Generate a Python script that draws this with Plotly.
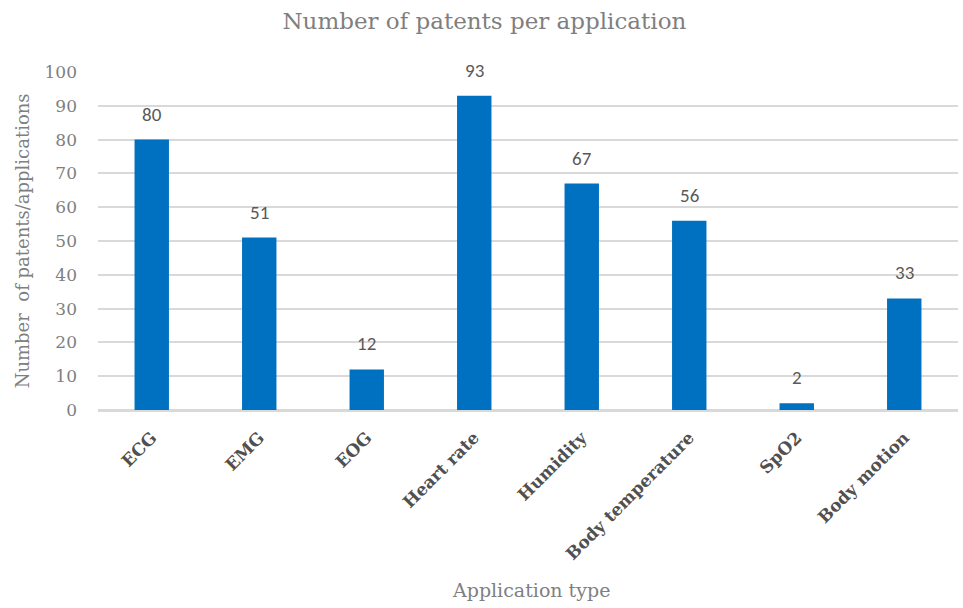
import plotly.graph_objects as go

categories = ["ECG", "EMG", "EOG", "Heart rate", "Humidity",
              "Body temperature", "SpO2", "Body motion"]
patents = [80, 51, 12, 93, 67, 56, 2, 33]
y_ticks = [0, 10, 20, 30, 40, 50, 60, 70, 80, 90, 100]

serif = "Palatino Linotype, Book Antiqua, DejaVu Serif, serif"
sans = "Carlito, Liberation Sans, sans-serif"

fig = go.Figure(
    go.Bar(
        x=categories,
        y=patents,
        marker=dict(color="#0070c0", line=dict(width=0)),
        hoverinfo="x+y",
    )
)

# value labels above each bar
for cat, val in zip(categories, patents):
    fig.add_annotation(
        x=cat, y=val, xref="x", yref="y",
        text=str(val), showarrow=False,
        yanchor="bottom", yshift=12,
        font=dict(family=sans, size=19, color="#595959"),
    )

# axis titles placed in paper coordinates
fig.add_annotation(
    x=0.503, y=-0.533, xref="paper", yref="paper",
    text="Application type", showarrow=False,
    xanchor="center", yanchor="middle",
    font=dict(family=serif, size=19, color="#7f7f7f"),
)
fig.add_annotation(
    x=-0.088, y=0.5, xref="paper", yref="paper",
    text="Number  of patents/applications", showarrow=False,
    textangle=-90, xanchor="center", yanchor="middle",
    font=dict(family=serif, size=18, color="#7f7f7f"),
)

fig.update_layout(
    width=963,
    height=608,
    margin=dict(l=98, r=5, t=72, b=198),
    paper_bgcolor="white",
    plot_bgcolor="white",
    bargap=0.68,
    showlegend=False,
    title=dict(
        text="Number of patents per application",
        x=0.503, xanchor="center", y=0.965, yanchor="middle",
        font=dict(family=serif, size=23, color="#7f7f7f"),
    ),
    xaxis=dict(
        tickangle=-45,
        tickfont=dict(family=serif, size=17, color="#505050", weight="bold"),
        showline=True, linecolor="#d9d9d9", linewidth=2,
        ticks="", showgrid=False, ticklabelstandoff=9,
    ),
    yaxis=dict(
        range=[0, 100],
        tickvals=y_ticks,
        tickfont=dict(family=serif, size=17, color="#7f7f7f"),
        gridcolor="#d9d9d9", gridwidth=1.5,
        zeroline=True, zerolinecolor="#d9d9d9", zerolinewidth=2,
        ticks="", ticklabelstandoff=20,
    ),
)

fig.write_html("out.html")
